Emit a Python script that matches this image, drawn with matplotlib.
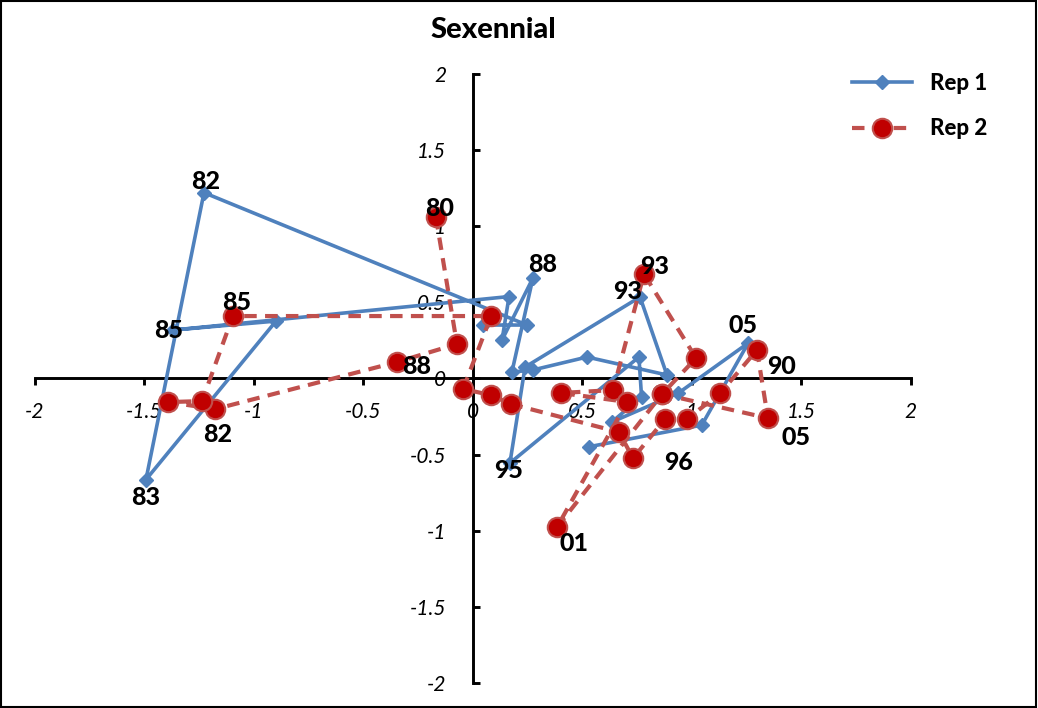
import matplotlib
matplotlib.use("Agg")
import matplotlib.pyplot as plt
from matplotlib.ticker import MultipleLocator, FuncFormatter
from matplotlib.patches import Rectangle

plt.rcParams["font.family"] = ["Lato", "DejaVu Sans"]
plt.rcParams["axes.unicode_minus"] = False

# Rep 1 trajectory (x, y) in plotting order
rep1_x = [0.047, 0.248, -1.227, -1.492, -0.898, -1.368, 0.166, 0.134, 0.275, 0.179,
          0.275, 0.522, 0.887, 0.764, 0.239, 0.170, 0.759, 0.771, 0.635, 0.939,
          1.258, 1.046, 0.531]
rep1_y = [0.350, 0.350, 1.219, -0.665, 0.376, 0.317, 0.537, 0.252, 0.659, 0.041,
          0.055, 0.140, 0.022, 0.534, 0.074, -0.556, 0.140, -0.121, -0.287, -0.097,
          0.232, -0.307, -0.449]
# year tags for Rep 1: point index -> text
rep1_tags = {2: "82", 5: "85", 3: "83", 8: "88", 13: "93", 15: "95", 20: "05"}

# Rep 2 trajectory
rep2_x = [-0.168, -0.072, -0.346, -1.176, -1.391, -1.236, -1.095, 0.084, -0.044, 0.084,
          0.175, 0.668, 0.732, 0.879, 0.979, 1.130, 1.298, 1.348, 0.865, 1.020,
          0.782, 0.641, 0.403, 0.705, 0.385, 0.865]
rep2_y = [1.059, 0.225, 0.107, -0.202, -0.156, -0.149, 0.409, 0.409, -0.070, -0.110,
          -0.169, -0.353, -0.524, -0.267, -0.267, -0.097, 0.186, -0.261, -0.103, 0.133,
          0.685, -0.077, -0.096, -0.155, -0.977, -0.103]
rep2_tags = {0: "80", 6: "85", 3: "82", 2: "88", 20: "93", 16: "90", 12: "96", 24: "01", 17: "05"}

# label offsets (pixels) relative to the tagged point
rep1_off = {2: (2, 11), 5: (-4, 0), 3: (0, -18), 8: (10, 13), 13: (-12, 6), 15: (-1, -7), 20: (-5, 18)}
rep2_off = {0: (4, 9), 6: (4, 14), 3: (3, -25), 2: (20, -4), 20: (11, 8), 16: (25, -16),
            12: (46, -4), 24: (17, -16), 17: (28, -19)}

BLUE = "#4F81BD"
RED_LINE = "#C0504D"
RED_FILL = "#C00000"

fig = plt.figure(figsize=(10.38, 7.08), dpi=100)
ax = fig.add_axes([34.7 / 1038, 25 / 708, 876 / 1038, 609.3 / 708])
ax.set_xlim(-2, 2)
ax.set_ylim(-2, 2)
ax.patch.set_alpha(0)

ax.plot(rep1_x, rep1_y, color=BLUE, lw=2.6, marker="D", ms=7.5, mfc=BLUE, mec=BLUE,
        label="Rep 1", zorder=3)
ax.plot(rep2_x, rep2_y, color=RED_LINE, lw=3.0, ls=(0, (3, 2)), marker="o", ms=14,
        mfc=RED_FILL, mec=RED_LINE, mew=1.5, label="Rep 2", zorder=4)

for tags, offs, xs, ys in [(rep1_tags, rep1_off, rep1_x, rep1_y),
                           (rep2_tags, rep2_off, rep2_x, rep2_y)]:
    for i, t in tags.items():
        ax.annotate(t, (xs[i], ys[i]), xytext=offs[i], textcoords="offset pixels",
                    ha="center", va="center", fontsize=18, fontweight="black",
                    color="black", zorder=6)

for side in ["top", "right"]:
    ax.spines[side].set_visible(False)
for side in ["left", "bottom"]:
    ax.spines[side].set_position("zero")
    ax.spines[side].set_linewidth(2.1)
    ax.spines[side].set_color("black")

ax.xaxis.set_major_locator(MultipleLocator(0.5))
ax.yaxis.set_major_locator(MultipleLocator(0.5))
fmt = FuncFormatter(lambda v, p: "%g" % v)
ax.xaxis.set_major_formatter(fmt)
ax.yaxis.set_major_formatter(fmt)
ax.tick_params(axis="x", direction="out", length=5, width=2.1, pad=12, labelsize=15)
ax.tick_params(axis="y", direction="in", length=5, width=2.1, pad=19, labelsize=15)
for lab in ax.get_xticklabels() + ax.get_yticklabels():
    lab.set_fontstyle("italic")

fig.text(493 / 1038, 1 - 30 / 708, "Sexennial", ha="center", va="center",
         fontsize=21, fontweight="black")

leg = ax.legend(loc="upper left", bbox_to_anchor=(832 / 1038, 1 - 53 / 708),
                bbox_transform=fig.transFigure, frameon=False, handlelength=2.7,
                labelspacing=1.1, handletextpad=0.8, prop={"weight": "black", "size": 16})

fig.patches.append(Rectangle((0.001, 0.001), 0.997, 0.997, transform=fig.transFigure,
                             fill=False, edgecolor="black", lw=1.5))

fig.savefig("out.png", dpi=100)
